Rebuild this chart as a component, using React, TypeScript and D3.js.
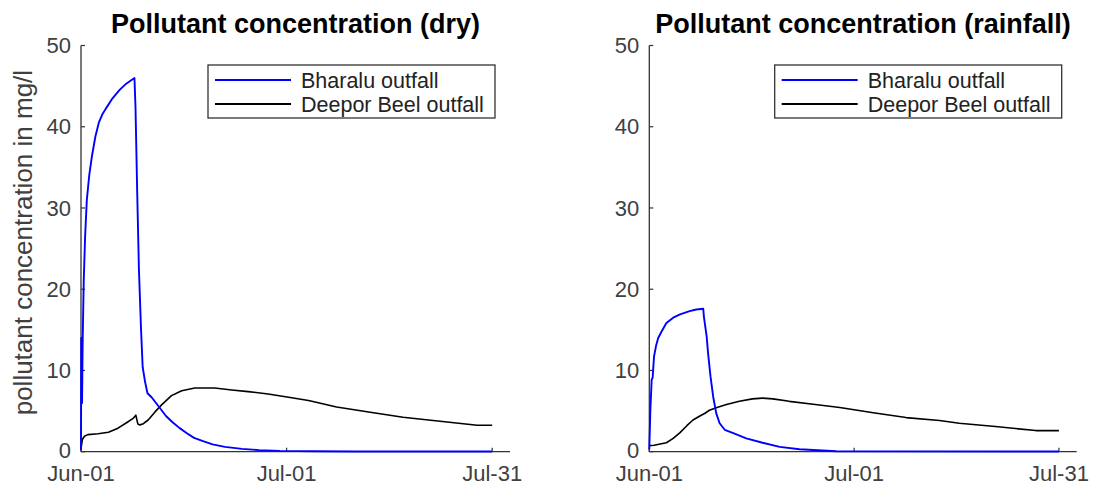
import React from "react";
import * as d3 from "d3";

// Day offsets from 1 June and concentrations (mg/l)
const dryBharaluDays = [0, 0.04, 0.15, 0.25, 0.4, 0.6, 0.85, 1.2, 1.6, 2.1, 2.6, 3.1, 3.6, 4.6, 5.6, 6.6, 7.8, 7.95, 8.2, 8.45, 8.75, 9.0, 9.35, 9.7, 10.3, 11.4, 12.4, 13.4, 14.4, 15.4, 16.5, 17.8, 19.2, 21.0, 23.5, 26.0, 29.0, 34.0, 40.0, 60.0];
const dryBharaluValues = [0.2, 14, 6, 14, 21, 26.5, 31, 34, 36.4, 38.8, 40.5, 41.5, 42.2, 43.5, 44.5, 45.3, 46, 42.5, 32, 22.5, 15.3, 10.4, 8.6, 7.2, 6.7, 5.5, 4.4, 3.6, 2.9, 2.3, 1.7, 1.3, 0.9, 0.6, 0.35, 0.2, 0.1, 0.05, 0.02, 0.02];

const dryDeeporDays = [0, 0.2, 0.5, 1.0, 2.5, 4.0, 5.4, 6.7, 7.6, 8.0, 8.3, 8.6, 9.0, 9.8, 10.8, 11.8, 13.2, 14.7, 16.6, 19.5, 22, 24.4, 27.3, 30.3, 33.2, 37.3, 42.2, 47, 52.4, 57.8, 60];
const dryDeeporValues = [0.4, 1.5, 1.9, 2.1, 2.2, 2.4, 2.9, 3.6, 4.1, 4.5, 3.4, 3.3, 3.4, 3.9, 4.9, 5.8, 6.9, 7.5, 7.85, 7.85, 7.6, 7.4, 7.1, 6.7, 6.3, 5.5, 4.85, 4.25, 3.75, 3.25, 3.25];

const rainBharaluDays = [0, 0.15, 0.35, 0.49, 0.69, 0.98, 1.3, 1.8, 2.5, 3.5, 4.5, 5.9, 6.9, 7.9, 8.0, 8.4, 8.6, 8.96, 9.35, 9.8, 10.3, 11.05, 12.3, 14.2, 16.6, 19.1, 22, 27.4, 60];
const rainBharaluValues = [0.3, 5, 8.9, 9.1, 11.7, 13, 14, 14.8, 15.85, 16.5, 16.9, 17.3, 17.5, 17.6, 16.6, 14.2, 12.2, 9.3, 6.8, 4.75, 3.5, 2.7, 2.3, 1.65, 1.1, 0.6, 0.3, 0.05, 0.02];

const rainDeeporDays = [0, 0.7, 2.5, 3.5, 4.5, 5.5, 6.4, 7.4, 8.1, 8.8, 9.8, 11.3, 13.2, 15.1, 16.6, 18.1, 20.5, 24, 27.9, 32.8, 37.6, 42.5, 45.4, 50.7, 56.6, 60];
const rainDeeporValues = [0.75, 0.8, 1.1, 1.65, 2.35, 3.2, 3.9, 4.4, 4.7, 5.1, 5.4, 5.8, 6.2, 6.5, 6.6, 6.5, 6.2, 5.85, 5.45, 4.8, 4.2, 3.85, 3.5, 3.1, 2.6, 2.6];

const seriesNames = ["Bharalu outfall", "Deepor Beel outfall"];
const seriesColors = ["#0000ff", "#000000"];
const yTicks = [0, 10, 20, 30, 40, 50];
const xTickDates = ["2015-06-01", "2015-07-01", "2015-07-31"];
const panelTitles = ["Pollutant concentration (dry)", "Pollutant concentration (rainfall)"];
const yLabel = "pollutant concentration in mg/l";

const W = 1096;
const H = 485;
const FONT = "'Liberation Sans', Arial, Helvetica, sans-serif";
const AXIS = "#333333";
const START = new Date(2015, 5, 1);
const DAY_MS = 864e5;
const X_SPAN_DAYS = 62.6;

const toDate = (d: number) => new Date(START.getTime() + d * DAY_MS);
const parseTick = (s: string) => {
  const [y, m, d] = s.split("-").map(Number);
  return new Date(y, m - 1, d);
};

type Series = { days: number[]; values: number[] };

const panels: { left: number; right: number; title: string; showYLabel: boolean; series: Series[] }[] = [
  {
    left: 81,
    right: 510,
    title: panelTitles[0],
    showYLabel: true,
    series: [
      { days: dryBharaluDays, values: dryBharaluValues },
      { days: dryDeeporDays, values: dryDeeporValues },
    ],
  },
  {
    left: 649.3,
    right: 1076.7,
    title: panelTitles[1],
    showYLabel: false,
    series: [
      { days: rainBharaluDays, values: rainBharaluValues },
      { days: rainDeeporDays, values: rainDeeporValues },
    ],
  },
];

const TOP = 45.5;
const BOTTOM = 451.7;
const fmt = d3.timeFormat("%b-%d");

function Panel({ p }: { p: (typeof panels)[number] }) {
  const x = d3.scaleTime().domain([START, toDate(X_SPAN_DAYS)]).range([p.left, p.right]);
  const y = d3.scaleLinear().domain([0, 50]).range([BOTTOM, TOP]);
  const line = d3
    .line<[number, number]>()
    .x((d) => x(toDate(d[0])))
    .y((d) => y(d[1]));

  const legW = 287;
  const legH = 53;
  const legX = p.right - 15 - legW;
  const legY = 65;

  return (
    <g>
      <text
        x={(p.left + p.right) / 2}
        y={33}
        textAnchor="middle"
        fontFamily={FONT}
        fontWeight="bold"
        fontSize={27}
        fill="#000"
      >
        {p.title}
      </text>
      {/* axes */}
      <line x1={p.left} x2={p.right} y1={BOTTOM} y2={BOTTOM} stroke={AXIS} strokeWidth={1.3} />
      <line x1={p.left} x2={p.left} y1={TOP} y2={BOTTOM} stroke={AXIS} strokeWidth={1.3} />
      {yTicks.map((t) => (
        <g key={t}>
          <line x1={p.left} x2={p.left + 4} y1={y(t)} y2={y(t)} stroke={AXIS} strokeWidth={1.2} />
          <text
            x={p.left - 10}
            y={y(t) - (t === 0 ? 1 : 0)}
            dy="0.35em"
            textAnchor="end"
            fontFamily={FONT}
            fontSize={22}
            fill="#404040"
          >
            {t}
          </text>
        </g>
      ))}
      {xTickDates.map((s) => {
        const d = parseTick(s);
        return (
          <g key={s}>
            <line x1={x(d)} x2={x(d)} y1={BOTTOM} y2={BOTTOM - 4} stroke={AXIS} strokeWidth={1.2} />
            <text x={x(d)} y={481} textAnchor="middle" fontFamily={FONT} fontSize={22} fill="#404040">
              {fmt(d)}
            </text>
          </g>
        );
      })}
      {p.showYLabel && (
        <text
          transform={`translate(23,${(TOP + BOTTOM) / 2 - 6}) rotate(-90)`}
          textAnchor="middle"
          dy="0.35em"
          fontFamily={FONT}
          fontSize={26}
          fill="#404040"
        >
          {yLabel}
        </text>
      )}
      {/* data */}
      {p.series
        .map((s, i) => ({ s, i }))
        .reverse()
        .map(({ s, i }) => (
          <path
            key={i}
            d={line(s.days.map((d, k) => [d, s.values[k]] as [number, number])) || ""}
            fill="none"
            stroke={seriesColors[i]}
            strokeWidth={i === 0 ? 1.9 : 1.6}
            strokeLinejoin="round"
          />
        ))}
      {/* legend */}
      <rect x={legX} y={legY} width={legW} height={legH} fill="#fff" stroke={AXIS} strokeWidth={1.3} />
      {seriesNames.map((n, i) => {
        const cy = legY + 15 + i * 24;
        return (
          <g key={n}>
            <line x1={legX + 7} x2={legX + 83} y1={cy} y2={cy} stroke={seriesColors[i]} strokeWidth={1.8} />
            <text x={legX + 93} y={cy} dy="0.35em" fontFamily={FONT} fontSize={21.5} fill="#222">
              {n}
            </text>
          </g>
        );
      })}
    </g>
  );
}

export default function App() {
  return (
    <svg
      width={W}
      height={H}
      viewBox={`0 0 ${W} ${H}`}
      style={{ position: "absolute", left: 0, top: 0, background: "#fff" }}
    >
      <rect width={W} height={H} fill="#fff" />
      {panels.map((p, i) => (
        <Panel key={i} p={p} />
      ))}
    </svg>
  );
}
